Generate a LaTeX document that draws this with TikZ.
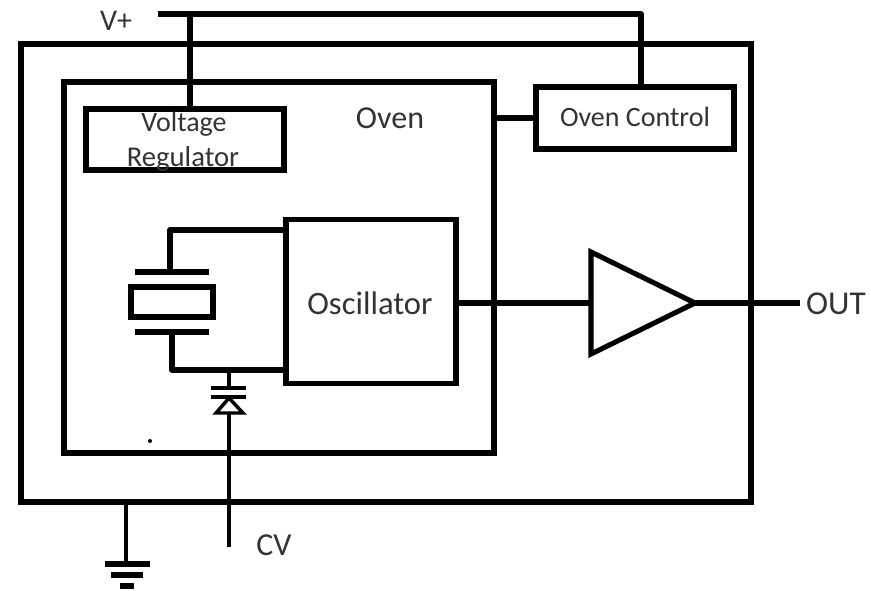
\documentclass[tikz,border=0pt]{standalone}
\usepackage{fontspec}
\setmainfont{Carlito}
\tikzset{
  wire/.style={line width=3.8pt,line join=round},
  thinwire/.style={line width=2.9pt},
  plate/.style={line width=4pt},
  blockbox/.style={draw,line width=4.4pt,rectangle,outer sep=0pt,inner sep=0pt},
  lbl/.style={text=black!80,inner sep=0pt}
}
\newcommand{\lblsize}[1]{\fontsize{#1}{#1}\selectfont}
\begin{document}
\begin{tikzpicture}[x=0.75pt,y=-0.75pt]
    \useasboundingbox (0,0) rectangle (871,590);
    % boxes
    \node[blockbox,minimum width=548pt,minimum height=344pt] (outer) at (386,273) {};
    \node[blockbox,minimum width=322.5pt,minimum height=278pt] (oven) at (279,267.5) {};
    \node[blockbox,minimum width=149pt,minimum height=46pt] (vreg) at (185,139.5) {};
    \node[blockbox,minimum width=149pt,minimum height=46.5pt] (octrl) at (635,118) {};
    \node[blockbox,minimum width=127pt,minimum height=123pt] (osc) at (371,301.5) {};
    \node[blockbox,minimum width=62pt,minimum height=23pt] (xtal) at (172,302) {};
    % labels
    \node[lbl,font=\lblsize{22.5pt}] (vpluslbl) at (116,21) {V+};
    \node[lbl,font=\lblsize{24pt}] (ovenlbl) at (390,118) {Oven};
    \node[lbl,font=\lblsize{21pt}] (vreglbl1) at (184,124) {Voltage};
    \node[lbl,font=\lblsize{21.5pt}] (vreglbl2) at (183,159) {Regulator};
    \node[lbl,font=\lblsize{21pt}] (octrllbl) at (635,117) {Oven Control};
    \node[lbl,font=\lblsize{24.5pt}] (osclbl) at (370,303) {Oscillator};
    \node[lbl,font=\lblsize{25pt}] (outlbl) at (836,304) {OUT};
    \node[lbl,font=\lblsize{24pt}] (cvlbl) at (274,545) {CV};
    % supply
    \coordinate (vstart) at (158,14);
    \coordinate (vbranch) at (190,14);
    \coordinate (vend) at (641,14);
    \draw[wire] (vstart) -- (vend) -- (vend |- octrl.north);
    \draw[wire] (vbranch) -- (vbranch |- vreg.north);
    \draw[wire] (oven.east |- octrl.west) -- (octrl.west);
    % amplifier
    \coordinate (ampa) at (591,252);
    \coordinate (ampb) at (591,354);
    \coordinate (ampout) at (695,303);
    \coordinate (outend) at (800,303);
    \draw[line width=3.8pt,line join=miter] (ampa) -- (ampout) -- (ampb) -- cycle;
    \draw[wire] (osc.east |- ampout) -- (ampa |- ampout);
    \draw[wire] (ampout) -- (outend);
    % crystal
    \coordinate (ptopl) at (135,272);
    \coordinate (ptopr) at (209,272);
    \coordinate (pbotl) at (135,332);
    \coordinate (pbotr) at (209,332);
    \coordinate (xtop) at (170,272);
    \coordinate (xbot) at (172,332);
    \draw[plate] (ptopl) -- (ptopr);
    \draw[plate] (pbotl) -- (pbotr);
    \draw[wire] (xtop) -- (xtop |- 0,230) -- (osc.west |- 0,230);
    \draw[wire] (xbot) -- (xbot |- 0,370) -- (osc.west |- 0,370);
    % varactor
    \coordinate (vtop) at (229,370);
    \coordinate (vplatea) at (229,388);
    \coordinate (vplateb) at (229,398);
    \coordinate (vbase) at (229,413);
    \coordinate (cvend) at (229,547);
    \draw[thinwire] (vtop) -- (vplatea);
    \draw[line width=2.8pt] (211,388) -- (246,388);
    \draw[line width=2.8pt] (211,397) -- (246,397);
    \draw[line width=2.6pt,line join=miter] (vplateb) -- (243,413) -- (216,413) -- cycle;
    \draw[thinwire] (vbase) -- (cvend);
    % ground
    \coordinate (gtop) at (126,502);
    \coordinate (gnd) at (126,564);
    \draw[thinwire] (gtop) -- (gnd);
    \draw[line width=3.8pt] (105,564) -- (150,564);
    \draw[line width=3.8pt] (111,575) -- (143,575);
    \draw[line width=3.8pt] (120,586) -- (134,586);
    % speck
    \fill (150,441) circle (1.5pt);
  \end{tikzpicture}
\end{document}
